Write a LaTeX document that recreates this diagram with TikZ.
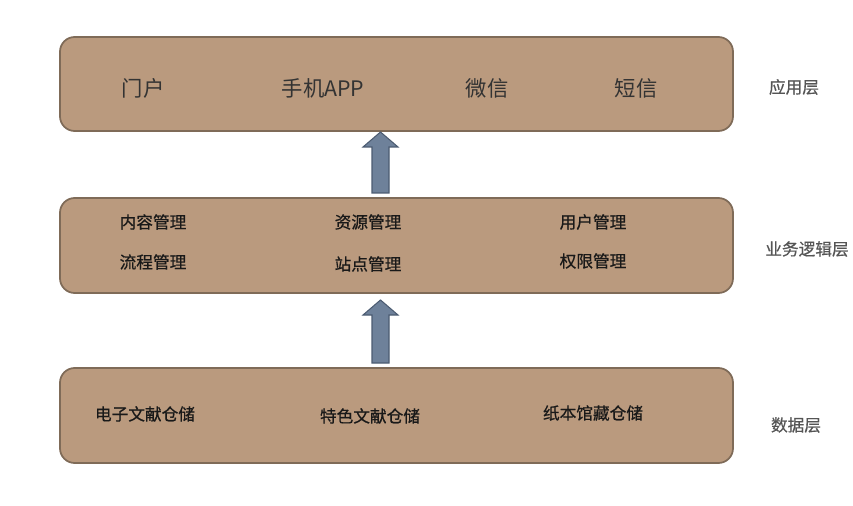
\documentclass[tikz,border=0pt]{standalone}
\usepackage{fontspec}
\setmainfont{Noto Sans CJK SC}
\newfontfamily\cjk{Noto Sans CJK SC}
\newfontfamily\cjkb[FakeBold=0.6]{Noto Sans CJK SC}
\begin{document}
\begin{tikzpicture}[x=0.75pt,y=-0.75pt]
\definecolor{boxfill}{HTML}{BA9A7E}
\definecolor{boxline}{HTML}{7F6B58}
\definecolor{arrfill}{HTML}{6E819A}
\definecolor{arrline}{HTML}{4C5C72}
\definecolor{lbl}{HTML}{555555}
\tikzset{
  layer/.style={draw=boxline, fill=boxfill, line width=1.3pt, rounded corners=11pt},
  bigtxt/.style={font=\cjk\fontsize{16pt}{18pt}\selectfont, text=black!80, inner sep=0pt},
  midtxt/.style={font=\cjkb\fontsize{12.5pt}{14pt}\selectfont, text=black!90, inner sep=0pt},
  sidetxt/.style={font=\cjkb\fontsize{12.5pt}{14pt}\selectfont, text=lbl, inner sep=0pt},
  uparrow/.style={draw=arrline, fill=arrfill, line width=0.8pt, line join=miter}
}
\useasboundingbox (0,0) rectangle (853,506);
\fill[white] (0,0) rectangle (853,506);

% layers
\draw[layer] (60,37) rectangle (733,131);
\node[coordinate] (b1) at (396,84) {};
\draw[layer] (60,198) rectangle (733,293);
\node[coordinate] (b2) at (396,245) {};
\draw[layer] (60,368) rectangle (733,463);
\node[coordinate] (b3) at (396,415) {};

% application layer
\node[bigtxt] (t11) at (143,88) {门户};
\node[bigtxt] (t12) at (323,88) {手机APP};
\node[bigtxt] (t13) at (487,88) {微信};
\node[bigtxt] (t14) at (636,88) {短信};

% business layer
\node[midtxt] (t21) at (153,222) {内容管理};
\node[midtxt] (t22) at (368,222) {资源管理};
\node[midtxt] (t23) at (593,222) {用户管理};
\node[midtxt] (t24) at (153,262) {流程管理};
\node[midtxt] (t25) at (368,264) {站点管理};
\node[midtxt] (t26) at (593,261) {权限管理};

% data layer
\node[midtxt] (t31) at (145,414) {电子文献仓储};
\node[midtxt] (t32) at (370,416) {特色文献仓储};
\node[midtxt] (t33) at (593,413) {纸本馆藏仓储};

% side labels
\node[sidetxt] (s1) at (794,87) {应用层};
\node[sidetxt] (s2) at (807,249) {业务逻辑层};
\node[sidetxt] (s3) at (796,425) {数据层};

% arrows
\draw[uparrow] (372,193) -- (372,147) -- (363,147) -- (380.5,132) -- (398,147) -- (389,147) -- (389,193) -- cycle;
\draw[uparrow] (372,363) -- (372,315) -- (363,315) -- (380.5,300) -- (398,315) -- (389,315) -- (389,363) -- cycle;
\end{tikzpicture}
\end{document}
